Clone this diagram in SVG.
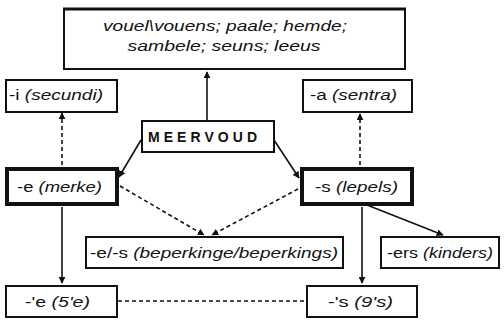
<svg xmlns="http://www.w3.org/2000/svg" width="504" height="322" viewBox="0 0 504 322">
<style>
.box{fill:#fff;stroke:#111;stroke-width:2}
.thick{fill:#fff;stroke:#111;stroke-width:4}
.t{font-family:"Liberation Sans",Arial,sans-serif;font-size:14px;fill:#111}
.i{font-style:italic}
.c{fill:none;stroke:#111;stroke-width:1.6}
.d{fill:none;stroke:#111;stroke-width:1.6;stroke-dasharray:4 3}
</style>
<defs>
<marker id="ah" viewBox="0 0 10 10" refX="9" refY="5" markerWidth="7" markerHeight="7" orient="auto" markerUnits="userSpaceOnUse">
<path d="M0,0 L10,5 L0,10 z" fill="#111"/>
</marker>
</defs>
<g id="connectors">
<line class="c" x1="207" y1="120" x2="207" y2="72" marker-end="url(#ah)"/>
<line class="d" x1="62" y1="165" x2="62" y2="113" marker-end="url(#ah)"/>
<line class="d" x1="360" y1="165" x2="360" y2="114" marker-end="url(#ah)"/>
<line class="c" x1="141" y1="140" x2="119" y2="177" marker-end="url(#ah)"/>
<line class="c" x1="274" y1="140" x2="299" y2="178" marker-end="url(#ah)"/>
<line class="d" x1="120" y1="186" x2="204" y2="235" marker-end="url(#ah)"/>
<line class="d" x1="298" y1="189" x2="212" y2="235" marker-end="url(#ah)"/>
<line class="c" x1="367" y1="205" x2="443" y2="235" marker-end="url(#ah)"/>
<line class="c" x1="62" y1="207" x2="62" y2="283" marker-end="url(#ah)"/>
<line class="c" x1="362" y1="207" x2="362" y2="283" marker-end="url(#ah)"/>
<line class="d" x1="118" y1="301" x2="306" y2="301"/>
</g>
<g id="n-top">
<rect class="box" x="64" y="9" width="341" height="60"/>
<line x1="63" y1="9" x2="406" y2="9" stroke="#111" stroke-width="3"/>
<text class="t i" x="225" y="31" text-anchor="middle" textLength="244" lengthAdjust="spacingAndGlyphs">vouel\vouens; paale; hemde;</text>
<text class="t i" x="224" y="51" text-anchor="middle" textLength="193" lengthAdjust="spacingAndGlyphs">sambele; seuns; leeus</text>
</g>
<g id="n-i">
<rect class="box" x="6" y="80" width="111" height="32"/>
<text class="t" x="9" y="100" textLength="94" lengthAdjust="spacingAndGlyphs">-i <tspan class="i">(secundi)</tspan></text>
</g>
<g id="n-a">
<rect class="box" x="303" y="80" width="109" height="32"/>
<text class="t" x="310" y="100" textLength="87" lengthAdjust="spacingAndGlyphs">-a <tspan class="i">(sentra)</tspan></text>
</g>
<g id="n-meervoud">
<rect class="box" x="142" y="121" width="132" height="31"/>
<text class="t" x="148" y="142" font-size="15" font-weight="bold" textLength="109">MEERVOUD</text>
</g>
<g id="n-e">
<rect class="thick" x="7" y="169" width="110" height="35"/>
<text class="t" x="17" y="192" textLength="85" lengthAdjust="spacingAndGlyphs">-e <tspan class="i">(merke)</tspan></text>
</g>
<g id="n-s">
<rect class="thick" x="302" y="169" width="110" height="35"/>
<text class="t" x="315" y="192" textLength="83" lengthAdjust="spacingAndGlyphs">-s <tspan class="i">(lepels)</tspan></text>
</g>
<g id="n-es">
<rect class="box" x="86" y="237" width="257" height="31"/>
<text class="t" x="90" y="258" textLength="248" lengthAdjust="spacingAndGlyphs">-e/-s <tspan class="i">(beperkinge/beperkings)</tspan></text>
</g>
<g id="n-ers">
<rect class="box" x="381" y="237" width="118" height="31"/>
<text class="t" x="387" y="258" textLength="106" lengthAdjust="spacingAndGlyphs">-ers <tspan class="i">(kinders)</tspan></text>
</g>
<g id="n-apos-e">
<rect class="box" x="6" y="286" width="111" height="31"/>
<text class="t" x="25" y="307" textLength="65" lengthAdjust="spacingAndGlyphs">-'e <tspan class="i">(5'e)</tspan></text>
</g>
<g id="n-apos-s">
<rect class="box" x="307" y="286" width="110" height="31"/>
<text class="t" x="328" y="307" textLength="65" lengthAdjust="spacingAndGlyphs">-'s <tspan class="i">(9's)</tspan></text>
</g>
</svg>
